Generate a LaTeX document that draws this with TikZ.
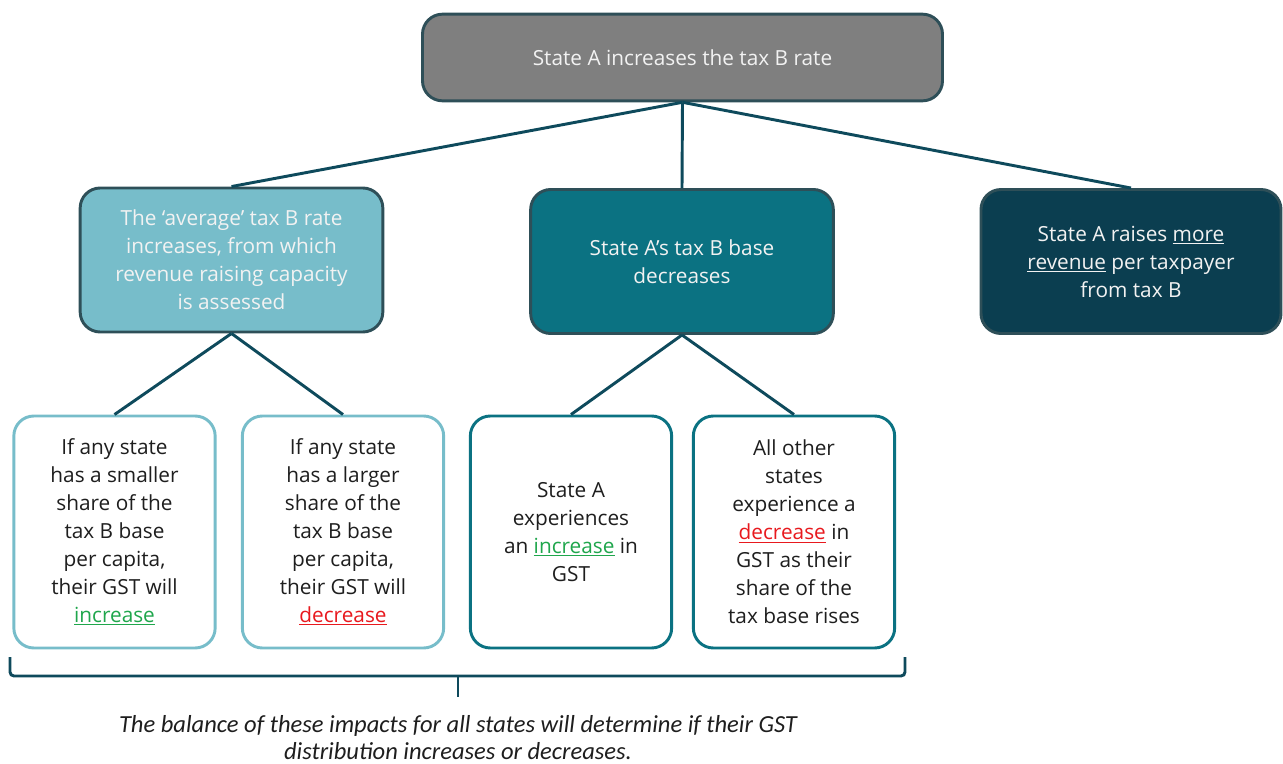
\documentclass[tikz,border=0pt]{standalone}
\usepackage{fontspec}
\setmainfont{Open Sans}
\newfontfamily\notefont{Carlito}
\usetikzlibrary{positioning}
\definecolor{edgedark}{HTML}{2E4F58}
\definecolor{linkcol}{HTML}{0E4A5C}
\definecolor{greyfill}{HTML}{7F7F7F}
\definecolor{lightteal}{HTML}{77BDCA}
\definecolor{midteal}{HTML}{0B7282}
\definecolor{darkteal}{HTML}{0B3E50}
\definecolor{upgreen}{HTML}{1FA64C}
\definecolor{downred}{HTML}{E8191E}
\definecolor{inktext}{HTML}{1E1E1E}
\newcommand{\up}[1]{\textcolor{upgreen}{\underline{#1}}}
\newcommand{\down}[1]{\textcolor{downred}{\underline{#1}}}
\tikzset{
	box/.style={rectangle, rounded corners=15pt, line width=2.2pt, align=center, inner sep=0pt,
		font=\fontsize{15.6}{21}\selectfont},
	headbox/.style={box, draw=edgedark, text=white!95!black},
	leafbox/.style={box, fill=white, text=inktext, minimum width=151pt, minimum height=174pt},
	link/.style={draw=linkcol, line width=2.2pt},
}
\begin{document}
\begin{tikzpicture}[x=0.75pt,y=-0.75pt]
	\useasboundingbox (0,0) rectangle (1283,764);
	% top of the tree
	\node[headbox, fill=greyfill, minimum width=390pt, minimum height=65pt] (rate) at (682.5,57.5) {State A increases the tax B rate};
	% second row
	\node[headbox, fill=lightteal, minimum width=227pt, minimum height=108pt] (avg) at (231.5,260) {The ‘average’ tax B rate\\increases, from which\\revenue raising capacity\\is assessed};
	\node[headbox, fill=midteal, minimum width=227pt, minimum height=108pt] (base) at (682,261.5) {State A’s tax B base\\decreases};
	\node[headbox, fill=darkteal, minimum width=225pt, minimum height=108pt] (more) at (1131,261.5) {State A raises \underline{more}\\\underline{revenue} per taxpayer\\from tax B};
	% bottom row
	\node[leafbox, draw=lightteal] (small) at (114.5,532) {If any state\\has a smaller\\share of the\\tax B base\\per capita,\\their GST will\\\up{increase}};
	\node[leafbox, draw=lightteal] (large) at (343,532) {If any state\\has a larger\\share of the\\tax B base\\per capita,\\their GST will\\\down{decrease}};
	\node[leafbox, draw=midteal] (gain) at (571,532) {State A\\experiences\\an \up{increase} in\\GST};
	\node[leafbox, draw=midteal] (loss) at (794,532) {All other\\states\\experience a\\\down{decrease} in\\GST as their\\share of the\\tax base rises};
	% connectors
	\draw[link] (rate.south) -- (avg.north);
	\draw[link] (rate.south) -- (base.north);
	\draw[link] (rate.south) -- (more.north);
	\draw[link] (avg.south) -- (small.north);
	\draw[link] (avg.south) -- (large.north);
	\draw[link] (base.south) -- (gain.north);
	\draw[link] (base.south) -- (loss.north);
	% bracket and note
	\coordinate (tip) at (458,697);
	\draw[link, rounded corners=3pt] (10,657) -- (10,676) -- (905,676) -- (905,657);
	\draw[link] (458,676) -- (tip);
	\node[font=\notefont\itshape\fontsize{18.4}{20.5}\selectfont, text=inktext, align=center, below=10pt of tip] (note) {The balance of these impacts for all states will determine if their GST\\distribution increases or decreases.};
\end{tikzpicture}
\end{document}
